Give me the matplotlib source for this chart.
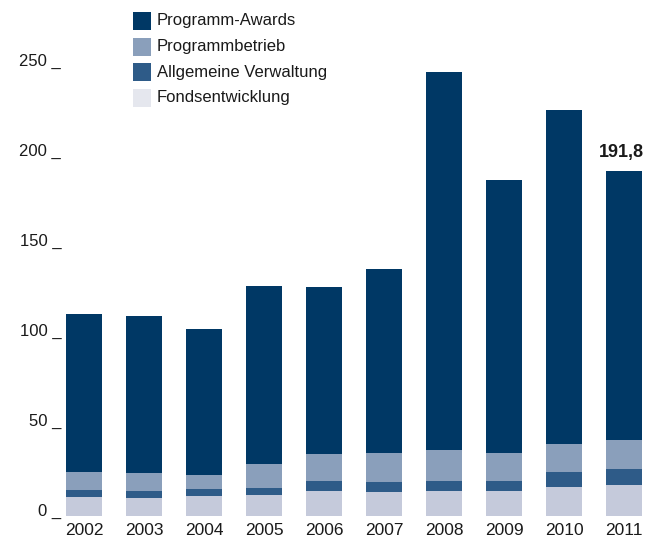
from matplotlib import pyplot as plt
from matplotlib.patches import Rectangle
import numpy as np

years = ['2002', '2003', '2004', '2005', '2006', '2007', '2008', '2009', '2010', '2011']

fondsentwicklung = [10.6, 10.0, 10.9, 11.7, 13.9, 13.3, 13.9, 13.9, 16.1, 17.2]
allgemeine_verwaltung = [3.8, 3.9, 4.1, 3.9, 5.5, 5.6, 5.5, 5.5, 8.3, 8.9]
programmbetrieb = [10.0, 10.0, 7.8, 13.3, 15.0, 16.1, 17.3, 15.6, 15.6, 16.1]
programm_awards = [87.8, 87.2, 81.1, 98.9, 92.8, 102.2, 210.0, 151.7, 185.6, 149.6]

y_ticks = [0, 50, 100, 150, 200, 250]
last_label = '191,8'

legend_labels = ['Programm-Awards', 'Programmbetrieb', 'Allgemeine Verwaltung', 'Fondsentwicklung']

c_awards = '#003865'
c_betrieb = '#8a9fbb'
c_verw = '#2e5b88'
c_fonds = '#c5cadb'
c_fonds_legend = '#e5e7ee'
txt = '#1a1a1a'

W, H = 650, 537
fig = plt.figure(figsize=(W / 100, H / 100), dpi=100)
ax = fig.add_axes([64 / W, 21 / H, 584 / W, 495 / H])

x = np.arange(len(years))
bw = 0.6
b = np.zeros(len(years))
for vals, col in [(fondsentwicklung, c_fonds), (allgemeine_verwaltung, c_verw),
                  (programmbetrieb, c_betrieb), (programm_awards, c_awards)]:
    ax.bar(x, vals, bw, bottom=b, color=col, linewidth=0)
    b = b + np.array(vals)

ax.set_xlim(-1 / 3, 9.4)
ax.set_ylim(0, 275)
for s in ax.spines.values():
    s.set_visible(False)

ax.set_xticks(x)
ax.set_xticklabels(years, fontsize=12.5, family='Liberation Sans', color=txt)
ax.tick_params(axis='x', length=0, pad=5)

ax.set_yticks(y_ticks)
ax.set_yticklabels([f'{t} _' for t in y_ticks], fontsize=12, family='Liberation Sans',
                   color=txt, va='baseline')
ax.tick_params(axis='y', length=0, pad=2)

ax.annotate(last_label, (x[-1], b[-1]), xytext=(-2, 10), textcoords='offset points',
            ha='center', va='baseline', fontsize=13, fontweight='bold',
            family='Liberation Sans', color=txt)

# legend drawn by hand in pixel coords
leg_colors = [c_awards, c_betrieb, c_verw, c_fonds_legend]
for i, (lab, col) in enumerate(zip(legend_labels, leg_colors)):
    yc = 21 + i * 25.5
    fig.add_artist(Rectangle((133 / W, 1 - (yc + 9) / H), 18 / W, 18 / H,
                             transform=fig.transFigure, color=col, linewidth=0))
    fig.text(157 / W, 1 - yc / H, lab, ha='left', va='center', fontsize=12,
             family='Liberation Sans', color=txt)

fig.savefig('out.png', dpi=100)
